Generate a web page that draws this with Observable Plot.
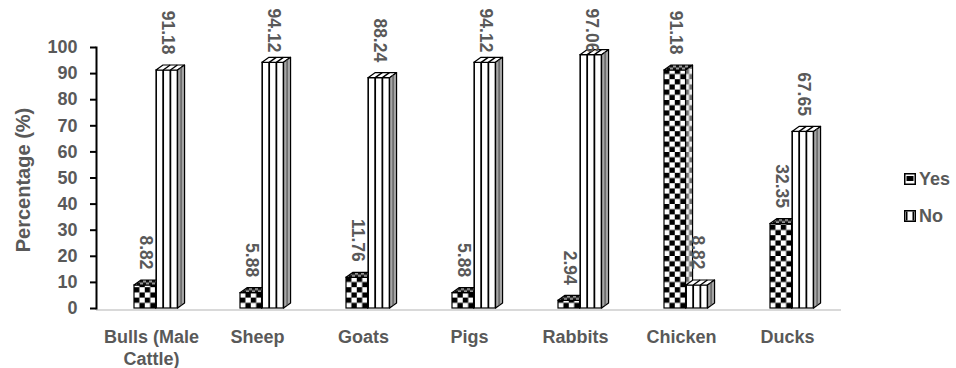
<!DOCTYPE html>
<html>
<head>
<meta charset="utf-8">
<script src="https://cdn.jsdelivr.net/npm/d3@7"></script>
<script src="https://cdn.jsdelivr.net/npm/@observablehq/plot@0.6"></script>
<style>
  body { margin: 0; background: #fff; }
  #wrap { position: relative; width: 956px; height: 368px; font-family: "Liberation Sans", Arial, sans-serif; }
  #legend { position: absolute; left: 904px; top: 170px; color: #595959; font-weight: bold; font-size: 18px; }
  #legend .item { display: flex; align-items: center; height: 18px; margin-bottom: 19px; }
  #legend svg { margin-right: 3px; }
</style>
</head>
<body>
<div id="wrap">
  <div id="legend">
    <div class="item">
      <svg width="12" height="12"><rect x="0.75" y="0.75" width="10.5" height="10.5" fill="#fff" stroke="#000" stroke-width="1.5"/><rect x="2.5" y="3" width="7" height="5" fill="#000"/></svg>
      <span>Yes</span>
    </div>
    <div class="item">
      <svg width="12" height="12"><rect x="0.75" y="0.75" width="10.5" height="10.5" fill="#fff" stroke="#000" stroke-width="1.5"/><rect x="2" y="1.5" width="1.5" height="9" fill="#000"/><rect x="8.5" y="1.5" width="1.5" height="9" fill="#000"/></svg>
      <span>No</span>
    </div>
  </div>
</div>
<script>
// Share of respondents answering Yes / No for each kind of livestock
const animals = ["Bulls (Male Cattle)", "Sheep", "Goats", "Pigs", "Rabbits", "Chicken", "Ducks"];
const answers = ["Yes", "No"];
const yesValues = [8.82, 5.88, 11.76, 5.88, 2.94, 91.18, 32.35];
const noValues = [91.18, 94.12, 88.24, 94.12, 97.06, 8.82, 67.65];
const yTicks = [0, 10, 20, 30, 40, 50, 60, 70, 80, 90, 100];
const xTickLabels = ["Bulls (Male\nCattle)", "Sheep", "Goats", "Pigs", "Rabbits", "Chicken", "Ducks"];

const rows = animals.flatMap((animal, i) => [
  {animal, answer: "Yes", value: yesValues[i]},
  {animal, answer: "No", value: noValues[i]}
]);

const W = 956, H = 368;
const mL = 96, mR = 115, mT = 47, mB = 60;
const band = (W - mL - mR) / animals.length;
const barW = 22;      // width of each front face
const lead = 36;      // gap from band start to the first bar
const slotStart = {Yes: lead, No: lead + barW};
const insets = a => ({insetLeft: slotStart[a], insetRight: band - slotStart[a] - barW});
const centerShift = a => slotStart[a] + barW / 2 - band / 2;
const labelCap = 92;  // keeps the tallest value labels inside the top edge
const grey = "#595959";
const font = "'Liberation Sans', Arial, sans-serif";

const chart = Plot.plot({
  width: W,
  height: H,
  marginLeft: mL,
  marginRight: mR,
  marginTop: mT,
  marginBottom: mB,
  style: {fontFamily: font, fontWeight: "bold", color: grey, background: "#fff", overflow: "visible"},
  x: {domain: animals, padding: 0, label: null},
  y: {domain: [0, 100], label: null},
  marks: [
    Plot.ruleY([0], {stroke: "#d9d9d9", strokeWidth: 2, dy: 1.5}),
    ...answers.map(a => Plot.barY(rows.filter(d => d.answer === a), {
      x: "animal", y: "value", ...insets(a), fill: "#fff", stroke: "#000", strokeWidth: 1.2
    })),
    ...answers.map(a => Plot.text(rows.filter(d => d.answer === a), {
      x: "animal", y: d => Math.min(d.value, labelCap), text: d => d.value.toFixed(2),
      rotate: 90, textAnchor: "end", lineAnchor: "middle",
      dx: centerShift(a), dy: -16, fontSize: 17.5, fill: grey
    })),
    Plot.frame({anchor: "left", stroke: "#000", strokeWidth: 2}),
    Plot.axisY({ticks: yTicks, tickSize: 6, tickPadding: 13, stroke: "#000", strokeWidth: 2, fontSize: 18, fill: grey, label: null}),
    Plot.axisX({tickSize: 0, tickPadding: 20, fontSize: 18, lineHeight: 1.17, fill: grey, label: null,
      tickFormat: d => xTickLabels[animals.indexOf(d)]}),
    Plot.text(["Percentage (%)"], {frameAnchor: "left", textAnchor: "middle", rotate: -90, dx: -73, dy: 2, fontSize: 20, fill: grey})
  ]
});

document.getElementById("wrap").prepend(chart);

// Give every bar a patterned front and a top and side face for the 3D look
const svg = d3.select(chart);
const defs = svg.insert("defs", ":first-child");
const ddx = 7, ddy = -5;

function checker(id, x0, y0, cell, dark, light) {
  const p = defs.append("pattern").attr("id", id).attr("patternUnits", "userSpaceOnUse")
    .attr("x", x0).attr("y", y0).attr("width", cell[0] * 2).attr("height", cell[1] * 2);
  p.append("rect").attr("width", cell[0] * 2).attr("height", cell[1] * 2).attr("fill", light);
  p.append("rect").attr("width", cell[0]).attr("height", cell[1]).attr("fill", dark);
  p.append("rect").attr("x", cell[0]).attr("y", cell[1]).attr("width", cell[0]).attr("height", cell[1]).attr("fill", dark);
}
function stripes(id, x0, step, lineW, dark, light) {
  const p = defs.append("pattern").attr("id", id).attr("patternUnits", "userSpaceOnUse")
    .attr("x", x0 - lineW / 2).attr("y", 0).attr("width", step).attr("height", 10);
  p.append("rect").attr("width", step).attr("height", 10).attr("fill", light);
  p.append("rect").attr("width", lineW).attr("height", 10).attr("fill", dark);
}

svg.selectAll('g[aria-label="bar"]').each(function(_, si) {
  const answer = answers[si];
  const g = d3.select(this);
  g.selectAll("rect").each(function(__, i) {
    const r = d3.select(this);
    const x = +r.attr("x"), y = +r.attr("y"), w = +r.attr("width"), h = +r.attr("height");
    const base = y + h;
    const top = [[x, y], [x + ddx, y + ddy], [x + w + ddx, y + ddy], [x + w, y]];
    const side = [[x + w, y], [x + w + ddx, y + ddy], [x + w + ddx, base + ddy], [x + w, base]];
    const pts = p => p.map(q => q.join(",")).join(" ");
    if (answer === "Yes") {
      checker(`front-${si}-${i}`, x, base, [w / 4, 5.2], "#000", "#fff");
      checker(`side-${si}-${i}`, x + w, base, [ddx / 2, 5.2], "#6e6e6e", "#f2f2f2");
      checker(`top-${si}-${i}`, x, y, [3, 2.5], "#111", "#9a9a9a");
      r.attr("fill", `url(#front-${si}-${i})`);
      g.append("polygon").attr("points", pts(top)).attr("fill", `url(#top-${si}-${i})`)
        .attr("stroke", "#000").attr("stroke-width", 1.2).attr("stroke-linejoin", "round");
      g.append("polygon").attr("points", pts(side)).attr("fill", `url(#side-${si}-${i})`)
        .attr("stroke", "#000").attr("stroke-width", 1.2).attr("stroke-linejoin", "round");
    } else {
      stripes(`front-${si}-${i}`, x, w / 3, 1.8, "#000", "#fff");
      r.attr("fill", `url(#front-${si}-${i})`);
      g.append("polygon").attr("points", pts(top)).attr("fill", "#fff")
        .attr("stroke", "#000").attr("stroke-width", 1.2).attr("stroke-linejoin", "round");
      for (let k = 1; k < 3; k++) {
        const sx = x + k * w / 3;
        g.append("line").attr("x1", sx).attr("y1", y).attr("x2", sx + ddx).attr("y2", y + ddy)
          .attr("stroke", "#000").attr("stroke-width", 1.4);
      }
      g.append("polygon").attr("points", pts(side)).attr("fill", "#a6a6a6")
        .attr("stroke", "#000").attr("stroke-width", 1.2).attr("stroke-linejoin", "round");
      g.append("line").attr("x1", x + w + ddx / 2).attr("y1", y + ddy / 2)
        .attr("x2", x + w + ddx / 2).attr("y2", base + ddy / 2)
        .attr("stroke", "#555").attr("stroke-width", 1.2);
    }
  });
});
</script>
</body>
</html>
